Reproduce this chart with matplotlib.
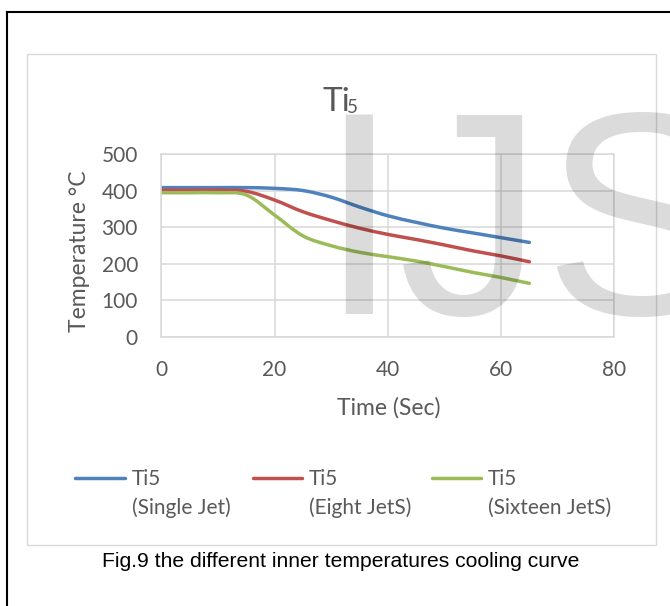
import numpy as np
import matplotlib
matplotlib.use("Agg")
import matplotlib.pyplot as plt
from matplotlib.path import Path
from matplotlib.patches import PathPatch, Rectangle
from matplotlib.lines import Line2D

# data (time in s, inner temperature Ti5 in degC)
time_s = [0, 5, 10, 15, 20, 25, 30, 35, 40, 45, 50, 55, 60, 65]
ti5_single = [408, 408, 408, 408, 406, 400, 382, 355, 331, 313, 297, 284, 271, 258]
ti5_eight = [401, 401, 401, 398, 374, 342, 318, 297, 280, 266, 251, 235, 221, 205]
ti5_sixteen = [394, 394, 394, 388, 333, 276, 249, 231, 219, 207, 192, 176, 162, 146]

series = [ti5_single, ti5_eight, ti5_sixteen]
legend_top = ["Ti5", "Ti5", "Ti5"]
legend_bottom = ["(Single Jet)", "(Eight JetS)", "(Sixteen JetS)"]
colors = ["#4F81BD", "#C0504D", "#9BBB59"]
x_ticks = [0, 20, 40, 60, 80]
y_ticks = [0, 100, 200, 300, 400, 500]

W, H = 670, 606
def fx(px):
    return px / W
def fy(py):
    return 1 - py / H

def smooth_path(x, y):
    # excel style smoothed line: catmull-rom -> cubic bezier
    p = np.column_stack([x, y]).astype(float)
    n = len(p)
    verts = [p[0]]
    codes = [Path.MOVETO]
    for i in range(n - 1):
        p0 = p[max(i - 1, 0)]
        p1 = p[i]
        p2 = p[i + 1]
        p3 = p[min(i + 2, n - 1)]
        verts += [p1 + (p2 - p0) / 6, p2 - (p3 - p1) / 6, p2]
        codes += [Path.CURVE4] * 3
    return Path(verts, codes)

plt.rcParams['font.family'] = ['Lato', 'DejaVu Sans']
txt = '#595959'
grid_c = '#d9d9d9'

fig = plt.figure(figsize=(W / 100, H / 100), dpi=100)

# page border (left + top) and chart frame
fig.add_artist(Line2D([fx(6.7), fx(6.7)], [0, fy(12)], color='black', lw=1.5))
fig.add_artist(Line2D([fx(6.7), 1], [fy(12), fy(12)], color='black', lw=1.5))
fig.add_artist(Rectangle((fx(27.3), fy(545.3)), fx(655.7) - fx(27.3), fy(54.3) - fy(545.3),
                         fill=False, ec=grid_c, lw=1))

ax = fig.add_axes([fx(161.3), fy(336.7), fx(614.3) - fx(161.3), fy(154) - fy(336.7)])
ax.set_xlim(0, 80)
ax.set_ylim(0, 500)
ax.set_xticks(x_ticks)
ax.set_yticks(y_ticks)
ax.grid(True, color=grid_c, lw=1.1)
ax.set_axisbelow(True)
for s in ax.spines.values():
    s.set_color(grid_c)
    s.set_linewidth(1.1)
ax.tick_params(length=0, labelsize=15, labelcolor=txt)
ax.tick_params(axis='x', pad=16.5)
ax.tick_params(axis='y', pad=16.8)

for vals, c in zip(series, colors):
    ax.add_patch(PathPatch(smooth_path(time_s, vals), fill=False, ec=c, lw=2.5,
                           capstyle='round', joinstyle='round'))

# titles
fig.text(fx(322.7), fy(110.7), 'Ti', fontsize=24, color=txt, ha='left', va='baseline')
fig.text(fx(347), fy(113.3), '5', fontsize=13.5, color=txt, ha='left', va='baseline')
fig.text(fx(388.8), fy(415), 'Time (Sec)', fontsize=16.5, color=txt, ha='center', va='baseline')
fig.text(fx(68.8), fy(251), 'Temperature °C', fontsize=16.5, color=txt, rotation=90,
         ha='left', va='center')

# legend
line_x0 = [73, 251, 430]
line_x1 = [127, 304, 483]
text_x = [131.7, 309, 488]
for i in range(3):
    fig.add_artist(Line2D([fx(line_x0[i] + 1.7), fx(line_x1[i] - 1.7)], [fy(477.7), fy(477.7)],
                          color=colors[i], lw=2.5, solid_capstyle='round'))
    fig.text(fx(text_x[i]), fy(485.3), legend_top[i], fontsize=15, color=txt, va='baseline')
    fig.text(fx(text_x[i]), fy(514.3), legend_bottom[i], fontsize=15, color=txt, va='baseline')

# caption
fig.text(fx(340.8), fy(567), 'Fig.9 the different inner temperatures cooling curve',
         family='Liberation Sans', fontsize=15.2, color='black', ha='center', va='baseline')

# watermark
fig.text(fx(318), fy(314), 'IJS', family='Liberation Sans', fontsize=209, color='black',
         alpha=0.14, ha='left', va='baseline', zorder=10)

fig.savefig('out.png', dpi=100)
